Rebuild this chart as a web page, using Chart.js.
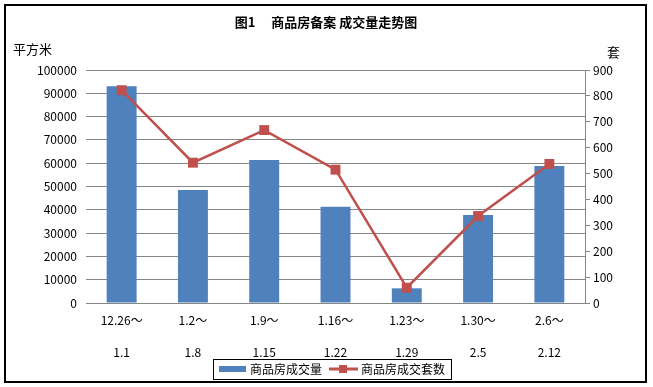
<!DOCTYPE html>
<html>
<head>
<meta charset="utf-8">
<script src="https://cdn.jsdelivr.net/npm/chart.js@4/dist/chart.umd.min.js"></script>
<style>
html,body{margin:0;padding:0;background:#fff;}
#c{display:block;}
</style>
</head>
<body>
<canvas id="c" width="653" height="387"></canvas>
<script>
const categories = [["12.26～","1.1"],["1.2～","1.8"],["1.9～","1.15"],["1.16～","1.22"],["1.23～","1.29"],["1.30～","2.5"],["2.6～","2.12"]];
const areaValues = [93000, 48500, 61400, 41300, 6300, 37800, 58800];
const unitValues = [822, 542, 668, 515, 59, 336, 537];
const chartTitle = "图1　 商品房备案 成交量走势图";
const leftAxisTitle = "平方米";
const rightAxisTitle = "套";
const seriesNames = ["商品房成交量", "商品房成交套数"];

const FONT = "'Noto Sans CJK SC', 'Noto Sans', sans-serif";
const BLUE = "#4F81BD";
const RED = "#C0504D";
const GRID = "#868686";

const decor = {
  id: "decor",
  afterDraw(chart) {
    const ctx = chart.ctx;
    ctx.save();
    // frame
    ctx.strokeStyle = "#000";
    ctx.lineWidth = 2;
    ctx.strokeRect(5, 5, 641, 377);
    // title
    ctx.fillStyle = "#000";
    ctx.font = "bold 13px " + FONT;
    ctx.textAlign = "center";
    ctx.textBaseline = "middle";
    ctx.fillText(chartTitle, 326, 22);
    // axis titles
    ctx.font = "13px " + FONT;
    ctx.textAlign = "left";
    ctx.fillText(leftAxisTitle, 13, 49);
    ctx.fillText(rightAxisTitle, 607, 52);
    // legend
    ctx.lineWidth = 1;
    ctx.strokeStyle = "#000";
    ctx.strokeRect(213.5, 359.5, 238, 20);
    ctx.fillStyle = BLUE;
    ctx.fillRect(219, 366, 27, 6);
    ctx.fillStyle = "#000";
    ctx.font = "12px " + FONT;
    ctx.textBaseline = "middle";
    ctx.fillText(seriesNames[0], 250, 369.5);
    ctx.strokeStyle = RED;
    ctx.lineWidth = 3;
    ctx.beginPath();
    ctx.moveTo(329, 369);
    ctx.lineTo(358, 369);
    ctx.stroke();
    ctx.fillStyle = RED;
    ctx.fillRect(339, 365, 8, 8);
    ctx.fillStyle = "#000";
    ctx.fillText(seriesNames[1], 361, 369.5);
    ctx.restore();
  }
};

new Chart(document.getElementById("c"), {
  data: {
    labels: categories,
    datasets: [
      {
        type: "line",
        label: seriesNames[1],
        data: unitValues,
        yAxisID: "y1",
        borderColor: RED,
        backgroundColor: RED,
        borderWidth: 2.5,
        pointStyle: "rect",
        pointRadius: 7,
        pointBackgroundColor: RED,
        pointBorderColor: RED,
        pointBorderWidth: 0,
        tension: 0,
        order: 0
      },
      {
        type: "bar",
        label: seriesNames[0],
        data: areaValues,
        yAxisID: "y",
        backgroundColor: BLUE,
        borderWidth: 0,
        categoryPercentage: 1,
        barPercentage: 0.42,
        order: 1
      }
    ]
  },
  options: {
    responsive: false,
    devicePixelRatio: 1,
    animation: false,
    layout: { padding: { top: 70, left: 0, right: 0, bottom: 0 } },
    plugins: {
      legend: { display: false },
      title: { display: false },
      tooltip: { enabled: false }
    },
    scales: {
      x: {
        grid: { display: false, drawTicks: false },
        border: { display: true, color: GRID, width: 1 },
        ticks: {
          color: "#000",
          font: { family: FONT, size: 12, lineHeight: 2.6667 },
          padding: 1,
          maxRotation: 0,
          autoSkip: false
        },
        afterFit(s) { s.height = 84; }
      },
      y: {
        position: "left",
        min: 0,
        max: 100000,
        grid: { color: GRID, drawTicks: false, lineWidth: 1 },
        border: { display: false },
        ticks: {
          stepSize: 10000,
          color: "#000",
          padding: 9,
          font: { family: FONT, size: 12 },
          callback: (v) => String(v)
        },
        afterFit(s) { s.width = 86; }
      },
      y1: {
        position: "right",
        min: 0,
        max: 900,
        grid: { drawOnChartArea: false, color: GRID, tickLength: 5 },
        border: { display: true, color: GRID, width: 1 },
        ticks: {
          stepSize: 100,
          color: "#000",
          padding: 3,
          font: { family: FONT, size: 12 },
          callback: (v) => String(v)
        },
        afterFit(s) { s.width = 68; }
      }
    }
  },
  plugins: [decor]
});
</script>
</body>
</html>
